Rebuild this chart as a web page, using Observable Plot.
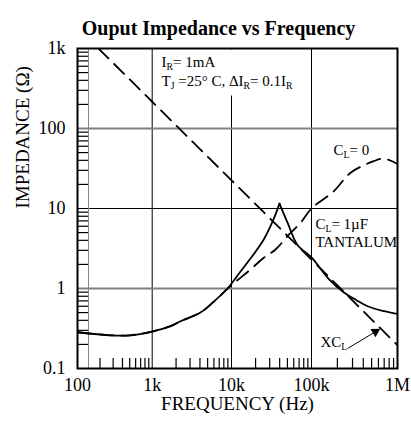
<!DOCTYPE html>
<html><head><meta charset="utf-8">
<script src="https://cdn.jsdelivr.net/npm/d3@7"></script>
<script src="https://cdn.jsdelivr.net/npm/@observablehq/plot@0.6"></script>
<style>body{margin:0;background:#fff}#chart{width:411px;height:422px}</style>
</head><body><div id="chart"></div>
<script>
const title = "Ouput Impedance vs Frequency";
const xLabel = "FREQUENCY (Hz)";
const yLabel = "IMPEDANCE (Ω)";
const xTicks = [100, 1000, 10000, 100000, 1000000];
const xTickLabels = ["100", "1k", "10k", "100k", "1M"];
const yTicks = [0.1, 1, 10, 100, 1000];
const yTickLabels = ["0.1", "1", "10", "100", "1k"];

// C_L = 1µF tantalum (solid)
const freqCL1 = [100, 276, 510, 1000, 1700, 2270, 4060, 5930, 8900, 10000, 12960, 18800, 25300, 33500, 39800, 50000, 66800, 100000, 160000, 236000, 330000, 450000, 700000, 1000000];
const zCL1    = [0.284, 0.26, 0.26, 0.29, 0.338, 0.39, 0.5, 0.68, 1.0, 1.15, 1.63, 2.66, 4.1, 7.3, 11.5, 6.7, 3.5, 2.45, 1.3, 0.9, 0.72, 0.6, 0.52, 0.48];
// C_L = 0 (dashed)
const freqCL0 = [100, 276, 510, 1000, 1700, 2270, 4060, 5930, 9700, 17300, 25300, 35500, 52000, 72900, 100000, 180000, 285000, 528000, 692000, 1000000];
const zCL0    = [0.284, 0.26, 0.26, 0.29, 0.338, 0.39, 0.5, 0.68, 1.07, 1.73, 2.42, 3.07, 4.7, 6.6, 10, 16.3, 28, 39, 42, 36];
// XC_L (dashed)
const freqXC = [191, 1000, 10000, 100000, 1000000];
const zXC    = [1000, 216, 22.5, 2.3, 0.195];

// annotations
const noteText = ["I_{R}= 1mA", "T_{J} =25° C, ΔI_{R}= 0.1I_{R}", "C_{L}= 0", "C_{L}= 1µF", "TANTALUM", "XC_{L}"];
const noteFreq = [1310, 1310, 180000, 111000, 111000, 127000];
const noteZ    = [680, 392, 53, 6.4, 3.8, 0.213];
const arrowFreq = [263000, 553000];
const arrowZ    = [0.178, 0.288];

const peak = zCL1.indexOf(Math.max(...zCL1));
const solid = [];
freqCL1.forEach((f, i) => {
  if (i <= peak) solid.push({f, z: zCL1[i], s: "rise"});
  if (i >= peak) solid.push({f, z: zCL1[i], s: "fall"});
});
const cl0 = freqCL0.map((f, i) => ({f, z: zCL0[i]}));
const xc = freqXC.map((f, i) => ({f, z: zXC[i]}));
const isPow10 = v => Math.abs(Math.log10(v) - Math.round(Math.log10(v))) < 1e-9;
const xMinor = d3.scaleLog().domain([100, 1e6]).ticks().filter(v => !isPow10(v));
const yMinor = d3.scaleLog().domain([0.1, 1000]).ticks().filter(v => !isPow10(v));
const noteIdx = noteText.map((_, i) => i);

const W = 411, H = 422, mL = 77, mR = 14, mT = 48, mB = 54;
const innerW = W - mL - mR, innerH = H - mT - mB;

const chart = Plot.plot({
  width: W, height: H,
  marginLeft: mL, marginRight: mR, marginTop: mT, marginBottom: mB,
  style: {fontFamily: "'Liberation Serif', 'Times New Roman', serif", fontSize: "18px", background: "white", color: "black"},
  x: {type: "log", domain: xTicks, range: [77, 151.7, 231, 311, 397]},
  y: {type: "log", domain: [0.1, 1000]},
  marks: [
    Plot.ruleX(xTicks.slice(1, -1), {x: d => d, stroke: "black", strokeWidth: 1}),
    Plot.ruleY(yTicks.filter(v => v === 10), {y: d => d, stroke: "black", strokeWidth: 1}),
    Plot.ruleY(yTicks.filter(v => v === 1 || v === 100), {y: d => d, stroke: "#808080", strokeWidth: 2}),
    Plot.frame({fill: "white", stroke: null, insetLeft: 78, insetRight: 97, insetTop: 1, insetBottom: 273}),
    Plot.frame({stroke: "#888", strokeWidth: 1, insetRight: innerW - 11}),
    Plot.tickY(yMinor, {y: d => d, stroke: "black", strokeWidth: 1.2, insetRight: innerW - 11}),
    Plot.tickX(xMinor, {x: d => d, stroke: "black", strokeWidth: 1.2, insetTop: innerH - 10}),
    Plot.line(cl0, {x: "f", y: "z", curve: "catmull-rom", stroke: "black", strokeWidth: 1.8, strokeDasharray: "14,8", clip: true}),
    Plot.line(xc, {x: "f", y: "z", stroke: "black", strokeWidth: 1.8, strokeDasharray: "14,8", clip: true}),
    Plot.line(solid, {x: "f", y: "z", z: "s", curve: "catmull-rom", stroke: "black", strokeWidth: 1.8, clip: true}),
    Plot.frame({stroke: "black", strokeWidth: 2}),
    Plot.axisX(xTicks, {tickFormat: d => xTickLabels[xTicks.indexOf(d)], tickSize: 0, tickPadding: 10, label: null}),
    Plot.axisY(yTicks, {tickFormat: d => yTickLabels[yTicks.indexOf(d)], tickSize: 0, tickPadding: 12, label: null}),
    Plot.text([title], {text: d => d, frameAnchor: "top", dy: -28, dx: -19, fontWeight: "bold", fontSize: 20}),
    Plot.text([xLabel], {text: d => d, frameAnchor: "bottom", dy: 41, fontSize: 19}),
    Plot.text([yLabel], {text: d => d, frameAnchor: "left", dx: -55, rotate: -90, fontSize: 19}),
    Plot.text(noteIdx, {x: i => noteFreq[i], y: i => noteZ[i], text: i => noteText[i], textAnchor: "start", fontSize: 15}),
    Plot.link([0], {x1: () => arrowFreq[0], y1: () => arrowZ[0], x2: () => arrowFreq[1], y2: () => arrowZ[1], stroke: "black", strokeWidth: 1}),
    Plot.dot([0], {x: () => arrowFreq[1], y: () => arrowZ[1], symbol: "triangle", r: 3.6, fill: "black", stroke: null, rotate: 59})
  ]
});

// render "_{X}" as subscripts
const ns = "http://www.w3.org/2000/svg";
chart.querySelectorAll("text").forEach(t => {
  const s = t.textContent;
  if (!s.includes("_{")) return;
  const parts = s.split(/(_\{[^}]*\})/).filter(p => p.length);
  while (t.firstChild) t.removeChild(t.firstChild);
  let shifted = false;
  parts.forEach(p => {
    const ts = document.createElementNS(ns, "tspan");
    if (p.startsWith("_{")) {
      ts.textContent = p.slice(2, -1);
      ts.setAttribute("font-size", "65%");
      ts.setAttribute("dy", "3");
      shifted = true;
    } else {
      ts.textContent = p;
      if (shifted) { ts.setAttribute("dy", "-3"); shifted = false; }
    }
    t.appendChild(ts);
  });
});

document.getElementById("chart").appendChild(chart);
</script>
</body></html>
